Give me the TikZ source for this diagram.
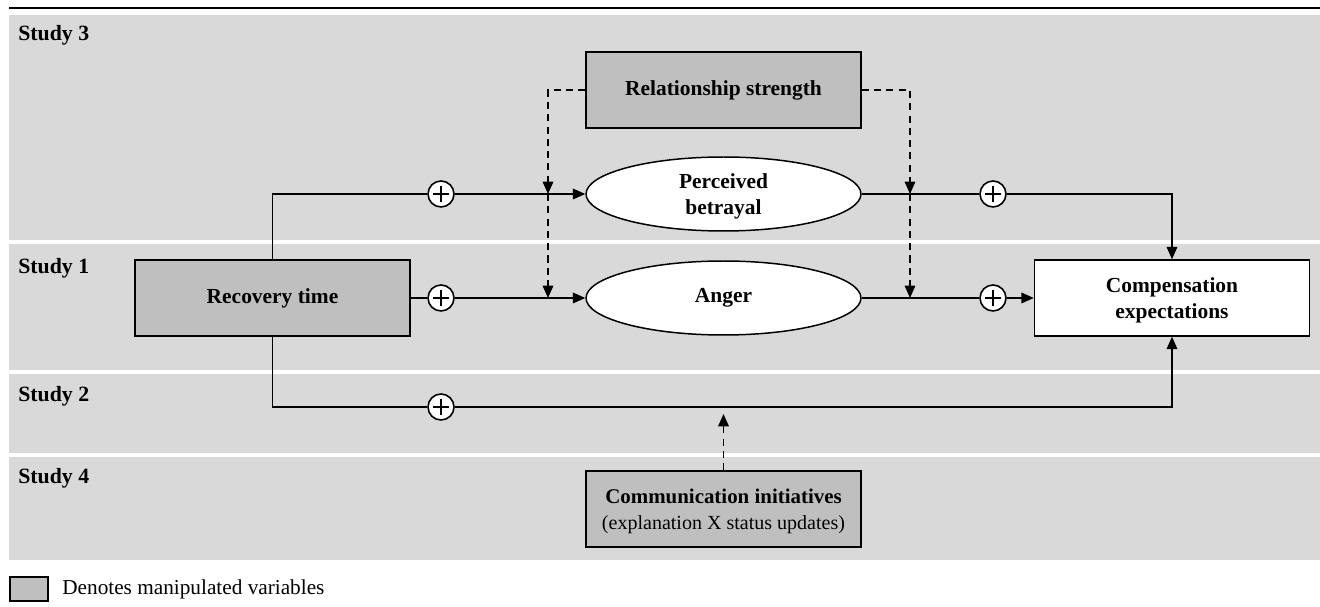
\documentclass[tikz,border=0pt]{standalone}
\usepackage{fontspec}
\setmainfont{Liberation Serif}
\usetikzlibrary{arrows.meta,shapes.geometric}
\definecolor{band}{HTML}{D9D9D9}
\definecolor{manip}{HTML}{BFBFBF}
\tikzset{
  bandbox/.style={fill=band,draw=none},
  studylabel/.style={anchor=west,font=\fontsize{12.4}{14}\selectfont\bfseries,inner sep=0pt},
  varbox/.style={draw,line width=0.85pt,minimum width=5.5cm,minimum height=1.52cm,inner sep=2pt,align=center,font=\fontsize{12.2}{14.8}\selectfont\bfseries},
  manipbox/.style={varbox,fill=manip},
  whitebox/.style={varbox,fill=white},
  medell/.style={ellipse,draw,fill=white,line width=0.85pt,minimum width=5.5cm,minimum height=1.48cm,inner sep=0pt,align=center,font=\fontsize{12.2}{14.8}\selectfont\bfseries},
  plus/.style={circle,draw,fill=white,line width=0.9pt,minimum size=0.52cm,inner sep=0pt,
    path picture={\draw[line width=1.4pt] ([xshift=-0.16cm]path picture bounding box.center) -- ([xshift=0.16cm]path picture bounding box.center);
                  \draw[line width=1.4pt] ([yshift=-0.16cm]path picture bounding box.center) -- ([yshift=0.16cm]path picture bounding box.center);}},
  arr/.style={line width=0.85pt,-{Triangle[length=7pt,width=6pt]}},
  darr/.style={line width=0.85pt,dash pattern=on 4pt off 3pt,-{Triangle[length=7pt,width=6pt]}},
  conn/.style={line width=0.85pt},
}
\begin{document}
\begin{tikzpicture}[x=0.02cm,y=-0.02cm]
\useasboundingbox (0,0) rectangle (1320,607);
% top rule
\draw[line width=1.6pt] (9,8) -- (1320,8);
% bands
\fill[band] (9,15) rectangle (1320,240);
\fill[band] (9,244) rectangle (1320,370);
\fill[band] (9,374) rectangle (1320,453);
\fill[band] (9,457) rectangle (1320,560);
\node[studylabel] (s3) at (18,35) {Study 3};
\node[studylabel] (s1) at (18,268) {Study 1};
\node[studylabel] (s2) at (18,396) {Study 2};
\node[studylabel] (s4) at (18,478) {Study 4};
% nodes
\node[manipbox] (rs) at (723.5,90) {Relationship strength};
\node[medell,text depth=0pt] (pb) at (723.5,194) {Perceived\\betrayal};
\node[medell] (an) at (723.5,298) {Anger};
\node[manipbox] (rt) at (272.5,298) {Recovery time};
\node[whitebox,text depth=0pt] (ce) at (1172,298) {Compensation\\expectations};
\node[manipbox,text depth=0pt,font=\fontsize{11.4}{14.8}\selectfont] (ci) at (723.5,509) {{\fontsize{11.9}{14.8}\selectfont\bfseries Communication initiatives}\\(explanation X status updates)};
\node[plus] (p1) at (441,194) {};
\node[plus] (p2) at (441,298) {};
\node[plus] (p3) at (441,407) {};
\node[plus] (p4) at (993,194) {};
\node[plus] (p5) at (993,298) {};
\coordinate (d1) at (548,194);
\coordinate (d2) at (548,298);
\coordinate (d3) at (910,194);
\coordinate (d4) at (910,298);
\coordinate (d5) at (723.5,414);
% solid connectors
\draw[conn] (rt.north) |- (p1);
\draw[arr] (p1) -- (pb);
\draw[conn] (rt.east) -- (p2);
\draw[arr] (p2) -- (an);
\draw[conn] (rt.south) |- (p3);
\draw[arr] (p3) -| (ce.south);
\draw[conn] (pb) -- (p4);
\draw[arr] (p4) -| (ce.north);
\draw[conn] (an) -- (p5);
\draw[arr] (p5) -- (ce);
% dashed moderators
\draw[darr] (rs.west) -| (d1);
\draw[darr] (d1) -- (d2);
\draw[darr] (rs.east) -| (d3);
\draw[darr] (d3) -- (d4);
\draw[darr] (ci.north) -- (d5);
% legend
\node[draw,fill=manip,line width=0.85pt,minimum width=0.76cm,minimum height=0.48cm,inner sep=0pt] (leg) at (29,589) {};
\node[anchor=west,font=\fontsize{12.1}{14}\selectfont,inner sep=0pt] (legt) at (62,589) {Denotes manipulated variables};
\end{tikzpicture}
\end{document}
